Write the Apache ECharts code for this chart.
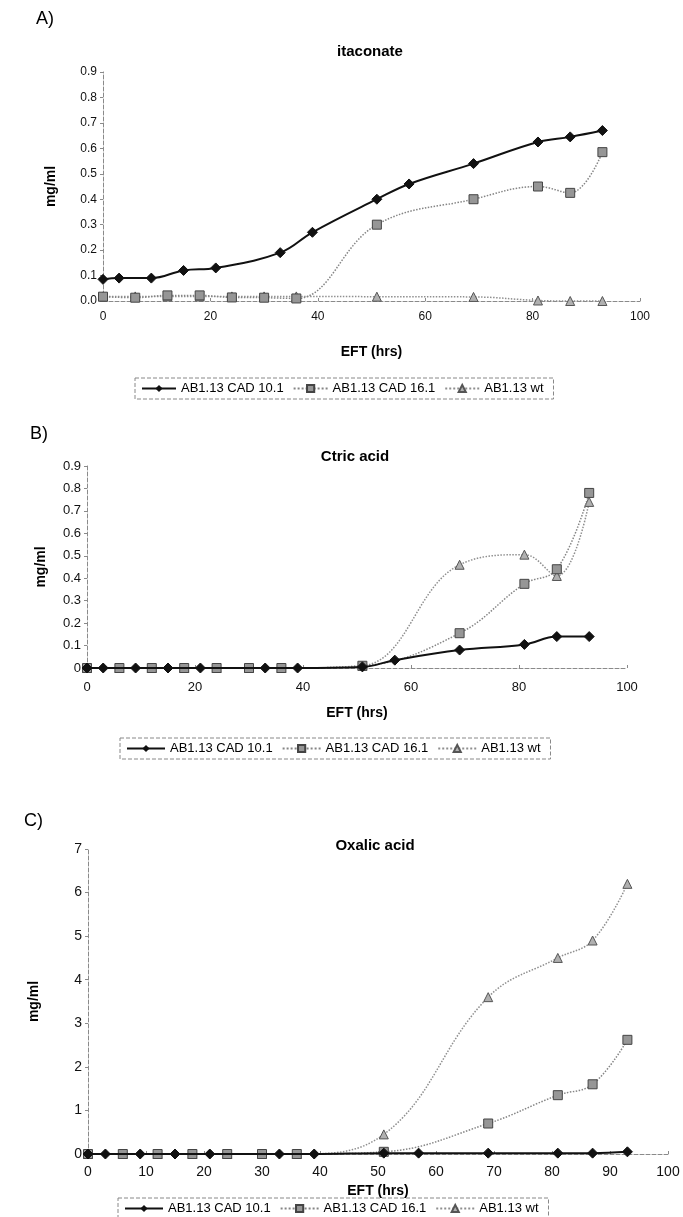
<!DOCTYPE html>
<html>
<head>
<meta charset="utf-8">
<script src="https://cdn.jsdelivr.net/npm/echarts@6/dist/echarts.min.js"></script>
<style>
  html, body { margin: 0; padding: 0; background: #fff; }
  #chart { width: 683px; height: 1217px; }
</style>
</head>
<body>
<div id="chart"></div>
<script>
// sampling times (hrs)
const times10 = [0, 3, 9, 15, 21, 33, 39, 51, 57, 69, 81, 87, 93]
const times16 = [0, 6, 12, 18, 24, 30, 36, 51, 69, 81, 87, 93]
const timesWt = [0, 6, 12, 18, 24, 30, 36, 51, 69, 81, 87, 93]

// A) itaconate
const itaconate10 = [0.085, 0.09, 0.09, 0.12, 0.13, 0.19, 0.27, 0.40, 0.46, 0.54, 0.625, 0.645, 0.67]
const itaconate16 = [0.017, 0.013, 0.022, 0.022, 0.014, 0.013, 0.01, 0.30, 0.40, 0.45, 0.425, 0.585]
const itaconateWt = [0.018, 0.018, 0.018, 0.018, 0.018, 0.018, 0.018, 0.017, 0.016, 0.002, 0.0, 0.0]

// B) citric acid
const citric10 = [0, 0, 0, 0, 0, 0, 0, 0.005, 0.035, 0.08, 0.105, 0.14, 0.14]
const citric16 = [0, 0, 0, 0, 0, 0, 0, 0.01, 0.155, 0.375, 0.44, 0.78]
const citricWt = [0, 0, 0, 0, 0, 0, 0, 0.01, 0.46, 0.505, 0.41, 0.74]

// C) oxalic acid
const oxalic10 = [0, 0, 0, 0, 0, 0, 0, 0.02, 0.02, 0.02, 0.02, 0.02, 0.05]
const oxalic16 = [0, 0, 0, 0, 0, 0, 0, 0.05, 0.7, 1.35, 1.6, 2.62]
const oxalicWt = [0, 0, 0, 0, 0, 0, 0, 0.45, 3.6, 4.5, 4.9, 6.2]

const names = ['AB1.13 CAD 10.1', 'AB1.13 CAD 16.1', 'AB1.13 wt']
const panelTitles = ['itaconate', 'Ctric acid', 'Oxalic acid']
const panelLetters = ['A)', 'B)', 'C)']

const font = 'Liberation Sans, Arial, sans-serif'

const pairs = (xs, ys) => xs.map((x, i) => [x, ys[i]])

const grids = [
  { left: 103, top: 72, width: 537, height: 229 },
  { left: 87, top: 466, width: 540, height: 202 },
  { left: 88, top: 849, width: 580, height: 305 }
]

const axisLine = { show: true, lineStyle: { color: '#8a8a8a', width: 1, type: 'dashed' } }

function xAxis (i, interval, margin, nameGap, fontSize) {
  return {
    type: 'value',
    gridIndex: i,
    min: 0,
    max: 100,
    interval: interval,
    name: 'EFT (hrs)',
    nameLocation: 'middle',
    nameGap: nameGap,
    nameTextStyle: { fontFamily: font, fontWeight: 'bold', fontSize: 14, color: '#000' },
    axisLine: axisLine,
    axisTick: { show: true, inside: true, length: 3, lineStyle: { color: '#8a8a8a' } },
    axisLabel: { fontFamily: font, fontSize: fontSize, color: '#111', margin: margin },
    splitLine: { show: false }
  }
}

function yAxis (i, max, interval, fmt, nameGap, fontSize) {
  return {
    type: 'value',
    gridIndex: i,
    min: 0,
    max: max,
    interval: interval,
    name: 'mg/ml',
    nameLocation: 'middle',
    nameRotate: 90,
    nameGap: nameGap,
    nameTextStyle: { fontFamily: font, fontWeight: 'bold', fontSize: 14, color: '#000' },
    axisLine: axisLine,
    axisTick: { show: true, length: 3, lineStyle: { color: '#8a8a8a' } },
    axisLabel: { fontFamily: font, fontSize: fontSize, color: '#111', margin: 6, formatter: fmt },
    splitLine: { show: false }
  }
}

function panelSeries (i, d10, d16, dWt) {
  return [
    {
      name: names[2],
      type: 'line',
      xAxisIndex: i,
      yAxisIndex: i,
      smooth: 0.4,
      data: pairs(timesWt, dWt),
      symbol: 'triangle',
      symbolSize: 9,
      itemStyle: { color: '#b0b0b0', borderColor: '#555', borderWidth: 1 },
      lineStyle: { color: '#8f8f8f', width: 1.5, type: 'dotted' },
      z: 2
    },
    {
      name: names[1],
      type: 'line',
      xAxisIndex: i,
      yAxisIndex: i,
      smooth: 0.4,
      data: pairs(times16, d16),
      symbol: 'rect',
      symbolSize: 9,
      itemStyle: { color: '#969696', borderColor: '#444', borderWidth: 1 },
      lineStyle: { color: '#858585', width: 1.5, type: 'dotted' },
      z: 3
    },
    {
      name: names[0],
      type: 'line',
      xAxisIndex: i,
      yAxisIndex: i,
      smooth: 0.4,
      data: pairs(times10, d10),
      symbol: 'diamond',
      symbolSize: 10,
      itemStyle: { color: '#111', borderColor: '#111' },
      lineStyle: { color: '#111', width: 2 },
      z: 4
    }
  ]
}

function legend (left, top, itemWidth, fontSize) {
  return {
    data: names,
    left: left,
    top: top,
    orient: 'horizontal',
    itemWidth: itemWidth,
    itemHeight: 9,
    itemGap: 9,
    padding: [4, 10, 4, 6],
    borderColor: '#888',
    borderWidth: 1,
    borderType: 'dashed',
    selectedMode: false,
    textStyle: { fontFamily: font, fontSize: fontSize, color: '#000' }
  }
}

const labelPos = [[36, 10], [30, 425], [24, 812]]
const titlePos = [[370, 44], [355, 449], [375, 838]]

const graphics = []
for (let i = 0; i < 3; i++) {
  graphics.push({
    type: 'text',
    left: labelPos[i][0],
    top: labelPos[i][1],
    style: { text: panelLetters[i], font: '18px ' + font, fill: '#000' }
  })
  graphics.push({
    type: 'text',
    x: titlePos[i][0],
    y: titlePos[i][1],
    style: { text: panelTitles[i], font: 'bold 15px ' + font, fill: '#000', align: 'center' }
  })
}

const chart = echarts.init(document.getElementById('chart'))
chart.setOption({
  animation: false,
  backgroundColor: '#fff',
  graphic: graphics,
  grid: grids,
  xAxis: [xAxis(0, 20, 10, 44, 12), xAxis(1, 20, 13, 38, 13), xAxis(2, 10, 11, 30, 14)],
  yAxis: [
    yAxis(0, 0.9, 0.1, v => v.toFixed(1), 45, 12),
    yAxis(1, 0.9, 0.1, v => (v === 0 ? '0' : v.toFixed(1)), 39, 13),
    yAxis(2, 7, 1, v => String(v), 47, 14)
  ],
  legend: [legend(135, 378, 34, 13), legend(120, 738, 38, 13), legend(118, 1198, 38, 13)],
  series: [].concat(
    panelSeries(0, itaconate10, itaconate16, itaconateWt),
    panelSeries(1, citric10, citric16, citricWt),
    panelSeries(2, oxalic10, oxalic16, oxalicWt)
  )
})
</script>
</body>
</html>
